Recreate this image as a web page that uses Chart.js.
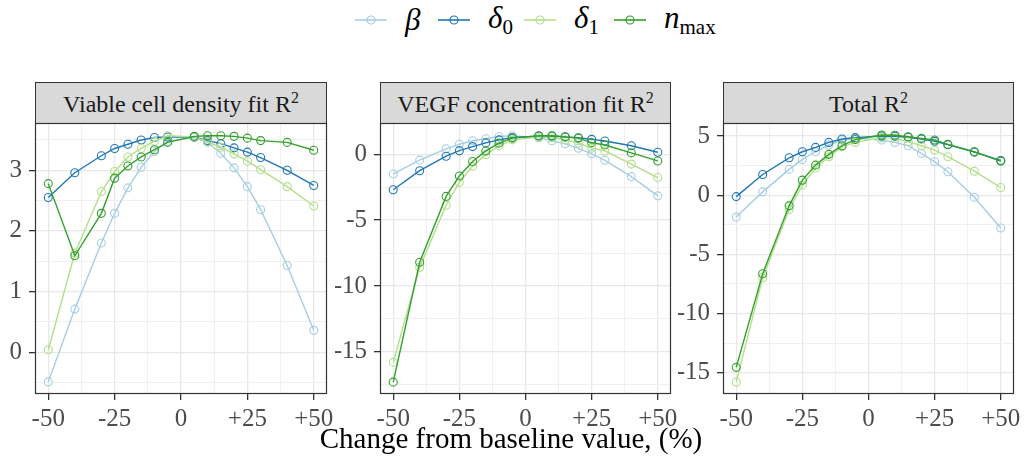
<!DOCTYPE html>
<html>
<head>
<meta charset="utf-8">
<script src="https://cdn.jsdelivr.net/npm/chart.js@4.4.1/dist/chart.umd.min.js"></script>
<style>
  body { margin: 0; width: 1025px; height: 459px; background: #fff; position: relative; overflow: hidden; font-family: 'Liberation Serif', serif; }
  .key { position: absolute; top: 0; height: 40px; display: flex; align-items: center; }
  .key span { font-style: italic; font-size: 31px; margin-left: 18px; color: #000; }
  .key sub { font-style: normal; font-size: 21px; vertical-align: -6px; }
  .strip { position: absolute; top: 82px; height: 42px; box-sizing: border-box; background: #d9d9d9; border: 1px solid #333; text-align: center; font-size: 24px; line-height: 42px; color: #1a1a1a; }
  .strip sup { font-size: 16px; vertical-align: 9px; line-height: 0; }
  .panel { position: absolute; top: 122px; line-height: 0; }
  .panel canvas { display: block; }
  #xtitle { position: absolute; left: 0; top: 420px; width: 1022px; text-align: center; font-size: 29px; line-height: 36px; color: #000; }
</style>
</head>
<body>
<div id="legend"></div>

<div class="strip" style="left:35px;width:292px">Viable cell density fit R<sup>2</sup></div>
<div class="strip" style="left:380px;width:291px">VEGF concentration fit R<sup>2</sup></div>
<div class="strip" style="left:723px;width:291px">Total R<sup>2</sup></div>

<div class="panel" style="left:0px"><canvas id="p1" width="343" height="312"></canvas></div>
<div class="panel" style="left:335px"><canvas id="p2" width="352" height="312"></canvas></div>
<div class="panel" style="left:678px"><canvas id="p3" width="352" height="312"></canvas></div>

<div id="xtitle">Change from baseline value, (%)</div>

<script>
// Изменение параметра, %
const changes = [-50, -40, -30, -25, -20, -15, -10, -5, 5, 10, 15, 20, 25, 30, 40, 50];

// Плотность живых клеток
const cellBeta   = [-0.49, 0.71, 1.80, 2.29, 2.71, 3.05, 3.31, 3.48, 3.54, 3.46, 3.28, 3.04, 2.73, 2.35, 1.43, 0.36];
const cellDelta0 = [2.55, 2.96, 3.24, 3.36, 3.43, 3.50, 3.54, 3.55, 3.55, 3.49, 3.44, 3.37, 3.30, 3.21, 3.00, 2.75];
const cellDelta1 = [0.04, 1.63, 2.65, 2.98, 3.22, 3.36, 3.48, 3.57, 3.55, 3.47, 3.38, 3.27, 3.15, 3.01, 2.73, 2.41];
const cellNmax   = [2.78, 1.59, 2.29, 2.87, 3.07, 3.22, 3.34, 3.46, 3.56, 3.57, 3.57, 3.56, 3.53, 3.49, 3.46, 3.33];

// Концентрация VEGF
const vegfBeta   = [-1.50, -0.45, 0.41, 0.76, 1.02, 1.17, 1.35, 1.40, 1.25, 1.02, 0.79, 0.45, 0.03, -0.46, -1.70, -3.16];
const vegfDelta0 = [-2.70, -1.25, -0.15, 0.27, 0.58, 0.86, 1.09, 1.27, 1.37, 1.38, 1.31, 1.25, 1.13, 1.00, 0.64, 0.15];
const vegfDelta1 = [-15.8, -8.58, -3.87, -2.14, -0.92, -0.03, 0.64, 1.09, 1.30, 1.25, 1.10, 0.85, 0.46, 0.25, -0.75, -1.77];
const vegfNmax   = [-17.3, -8.20, -3.20, -1.65, -0.55, 0.25, 0.84, 1.22, 1.40, 1.40, 1.32, 1.22, 0.88, 0.70, 0.10, -0.51];

// Суммарный R2
const totalBeta   = [-1.85, 0.28, 2.18, 3.02, 3.67, 4.24, 4.66, 4.80, 4.66, 4.46, 4.18, 3.53, 2.82, 1.98, -0.18, -2.77];
const totalDelta0 = [-0.12, 1.75, 3.16, 3.67, 4.04, 4.46, 4.75, 4.86, 5.00, 4.98, 4.90, 4.75, 4.55, 4.27, 3.64, 2.93];
const totalDelta1 = [-15.8, -6.97, -1.21, 0.85, 2.30, 3.25, 4.10, 4.46, 4.86, 4.80, 4.52, 4.18, 3.81, 3.25, 2.03, 0.65];
const totalNmax   = [-14.55, -6.64, -0.90, 1.27, 2.54, 3.45, 4.18, 4.70, 5.08, 5.06, 4.94, 4.80, 4.66, 4.29, 3.67, 2.88];

// Подписи осей
const xTickValues = [-50, -25, 0, 25, 50];
const xTickLabels = ['-50', '-25', '0', '+25', '+50'];
const xGridValues = [-50, -37.5, -25, -12.5, 0, 12.5, 25, 37.5, 50];

const cellTickValues = [0, 1, 2, 3];
const cellTickLabels = ['0', '1', '2', '3'];
const cellGridValues = [-0.5, 0, 0.5, 1, 1.5, 2, 2.5, 3, 3.5];

const vegfTickValues = [-15, -10, -5, 0];
const vegfTickLabels = ['-15', '-10', '-5', '0'];
const vegfGridValues = [-17.5, -15, -12.5, -10, -7.5, -5, -2.5, 0];

const totalTickValues = [-15, -10, -5, 0, 5];
const totalTickLabels = ['-15', '-10', '-5', '0', '5'];
const totalGridValues = [-15, -12.5, -10, -7.5, -5, -2.5, 0, 2.5, 5];

const seriesNames = ['β', 'δ<sub>0</sub>', 'δ<sub>1</sub>', 'n<sub>max</sub>'];
const seriesColors = ['#A6CEE3', '#1F78B4', '#B2DF8A', '#33A02C'];
const legendLeft = [355, 438, 524, 614];

//Легенда
document.getElementById('legend').innerHTML = seriesNames.map((name, i) =>
  `<div class="key" style="left:${legendLeft[i]}px">` +
  `<svg width="32" height="12"><line x1="0" y1="6" x2="32" y2="6" stroke="${seriesColors[i]}" stroke-width="1.6"/>` +
  `<circle cx="16" cy="6" r="4" fill="none" stroke="${seriesColors[i]}" stroke-width="1.2"/></svg>` +
  `<span>${name}</span></div>`
).join('');

// Рамка вокруг области графика
const chartAreaBorder = {
  id: 'chartAreaBorder',
  afterDraw(chart) {
    const { ctx, chartArea: { left, top, width, height } } = chart;
    ctx.save();
    ctx.strokeStyle = '#333333';
    ctx.lineWidth = 1.2;
    ctx.strokeRect(left + 0.5, top + 0.5, width - 1, height - 1);
    ctx.restore();
  },
};

const tickFont = { family: "'Liberation Serif', serif", size: 25 };

function labelFor(values, labels) {
  return (value) => {
    const i = values.indexOf(value);
    return i >= 0 ? labels[i] : '';
  };
}

function gridOptions(majors) {
  return {
    color: (ctx) => (ctx.tick && majors.includes(ctx.tick.value) ? '#e8e8e8' : '#f0f0f0'),
    lineWidth: (ctx) => (ctx.tick && majors.includes(ctx.tick.value) ? 1.3 : 1),
    tickColor: (ctx) => (ctx.tick && majors.includes(ctx.tick.value) ? '#333333' : 'rgba(0,0,0,0)'),
    tickLength: 6,
    tickWidth: 1.3,
  };
}

function createPanel(canvasId, yMin, yMax, yTicks, yLabels, yGrid, yWidth, series) {
  const names = ['beta', 'delta0', 'delta1', 'nmax'];
  return new Chart(document.getElementById(canvasId), {
    type: 'line',
    data: {
      datasets: series.map((values, i) => ({
        label: names[i],
        data: changes.map((x, j) => ({ x: x, y: values[j] })),
        borderColor: seriesColors[i],
        borderWidth: 1.4,
        pointRadius: 4,
        pointBorderWidth: 1.1,
        pointBorderColor: seriesColors[i],
        pointBackgroundColor: 'rgba(0,0,0,0)',
        tension: 0,
        order: series.length - i,
      })),
    },
    options: {
      responsive: false,
      animation: false,
      devicePixelRatio: 1,
      layout: { autoPadding: false, padding: { top: 1, right: 16, left: 0, bottom: 0 } },
      plugins: { legend: { display: false }, tooltip: { enabled: false } },
      scales: {
        x: {
          type: 'linear',
          min: -55,
          max: 55,
          afterBuildTicks: (scale) => { scale.ticks = xGridValues.map((v) => ({ value: v })); },
          afterFit: (scale) => {
            scale.height = 40;
            scale.paddingLeft = 0;
            scale.paddingRight = 0;
          },
          ticks: { callback: labelFor(xTickValues, xTickLabels), autoSkip: false, maxRotation: 0, font: tickFont, color: '#4d4d4d', padding: 4 },
          grid: gridOptions(xTickValues),
          border: { display: false },
        },
        y: {
          type: 'linear',
          min: yMin,
          max: yMax,
          afterBuildTicks: (scale) => { scale.ticks = yGrid.map((v) => ({ value: v })); },
          afterFit: (scale) => {
            scale.width = yWidth;
            scale.paddingTop = 0;
            scale.paddingBottom = 0;
          },
          ticks: { callback: labelFor(yTicks, yLabels), autoSkip: false, font: tickFont, color: '#4d4d4d', padding: 7 },
          grid: gridOptions(yTicks),
          border: { display: false },
        },
      },
    },
    plugins: [chartAreaBorder],
  });
}

createPanel('p1', -0.69, 3.78, cellTickValues, cellTickLabels, cellGridValues, 35,
  [cellBeta, cellDelta0, cellDelta1, cellNmax]);
createPanel('p2', -18.2, 2.37, vegfTickValues, vegfTickLabels, vegfGridValues, 45,
  [vegfBeta, vegfDelta0, vegfDelta1, vegfNmax]);
createPanel('p3', -16.8, 6.1, totalTickValues, totalTickLabels, totalGridValues, 45,
  [totalBeta, totalDelta0, totalDelta1, totalNmax]);
</script>
</body>
</html>
